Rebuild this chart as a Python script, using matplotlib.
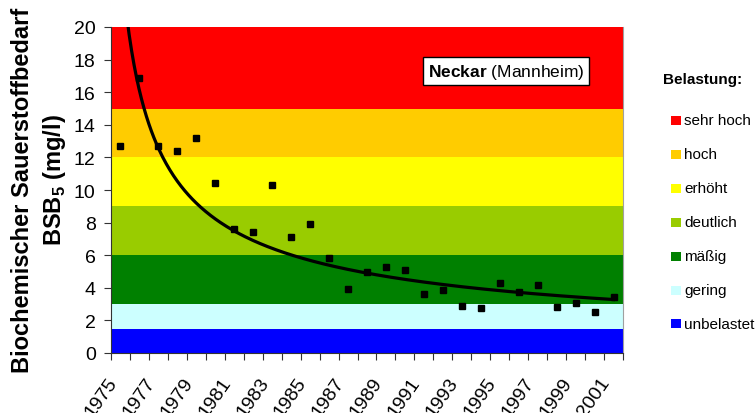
import numpy as np
import matplotlib
matplotlib.use('Agg')
import matplotlib.pyplot as plt
from matplotlib.patches import Rectangle

plt.rcParams['font.family'] = ['Liberation Sans', 'DejaVu Sans']
plt.rcParams['mathtext.fontset'] = 'custom'
plt.rcParams['mathtext.rm'] = 'Liberation Sans'
plt.rcParams['mathtext.bf'] = 'Liberation Sans:bold'

years = list(range(1975, 2002))
bsb5 = [12.7, 16.9, 12.7, 12.4, 13.2, 10.4, 7.6, 7.4, 10.3, 7.1, 7.9, 5.8, 3.9, 4.95,
        5.3, 5.1, 3.65, 3.87, 2.9, 2.76, 4.29, 3.72, 4.15, 2.84, 3.07, 2.54, 3.43]

band_labels = ['sehr hoch', 'hoch', 'erhöht', 'deutlich', 'mäßig', 'gering', 'unbelastet']
band_colors = ['#ff0000', '#ffcc00', '#ffff00', '#99cc00', '#008000', '#ccffff', '#0000ff']
band_edges = [20, 15, 12, 9, 6, 3, 1.5, 0]

TICK_SIZE = 14
W, H = 755, 414

fig = plt.figure(figsize=(W / 100, H / 100), dpi=100)
ax = fig.add_axes([111 / W, 1 - 354 / H, (623 - 111) / W, (354 - 28) / H])

for i in range(len(band_colors)):
  ax.axhspan(band_edges[i + 1], band_edges[i], color=band_colors[i], lw=0, zorder=0)

pos = np.arange(len(years))
ax.plot(pos, bsb5, 's', color='black', markersize=5, zorder=3)

# power trendline (like Excel), x counted 1..n
xn = pos + 1
p, lnc = np.polyfit(np.log(xn), np.log(bsb5), 1)
xf = np.linspace(1, len(years), 400)
ax.plot(xf - 1, np.exp(lnc) * xf ** p, color='black', lw=2.3, zorder=2)

ax.set_xlim(-0.5, len(years) - 0.5)
ax.set_ylim(0, 20)
ax.set_yticks(range(0, 21, 2))
ax.set_xticks(np.arange(-0.5, len(years), 1))
ax.set_xticklabels([])
ax.set_xticks(pos[::2], minor=True)
ax.set_xticklabels([str(y) for y in years[::2]], minor=True, rotation=55, ha='right', va='top')
ax.tick_params(axis='x', which='minor', length=0, pad=15, labelsize=TICK_SIZE)
ax.tick_params(axis='x', which='major', length=5, direction='out', color='#333333')
ax.tick_params(axis='y', length=5, direction='out', color='#333333', labelsize=TICK_SIZE, pad=6)
ax.spines['top'].set_visible(False)
ax.spines['right'].set_color('#a0a0a0')
ax.spines['left'].set_color('#333333')
ax.spines['bottom'].set_color('#333333')

fig.text(23 / W, 1 - 190 / H, 'Biochemischer Sauerstoffbedarf', rotation=90,
         ha='center', va='center', fontsize=17, fontweight='bold')
fig.text(54 / W, 1 - 180 / H, r'BSB$_\mathbf{5}$ (mg/l)', rotation=90,
         ha='center', va='center', fontsize=17, fontweight='bold')

fig.text(506 / W, 1 - 72 / H, r'$\mathbf{Neckar}$ (Mannheim)', ha='center', va='center',
         fontsize=12.5, bbox=dict(boxstyle='square,pad=0.25', fc='white', ec='black', lw=1))

fig.text(663 / W, 1 - 80 / H, 'Belastung:', ha='left', va='center', fontsize=11, fontweight='bold')
for i, (lab, col) in enumerate(zip(band_labels, band_colors)):
  yc = 121.5 + 33.9 * i
  fig.patches.append(Rectangle((671 / W, 1 - (yc + 4.5) / H), 10 / W, 9 / H,
                               transform=fig.transFigure, color=col, lw=0))
  fig.text(684 / W, 1 - yc / H, lab, ha='left', va='center', fontsize=11)

fig.savefig('out.png', dpi=100)
